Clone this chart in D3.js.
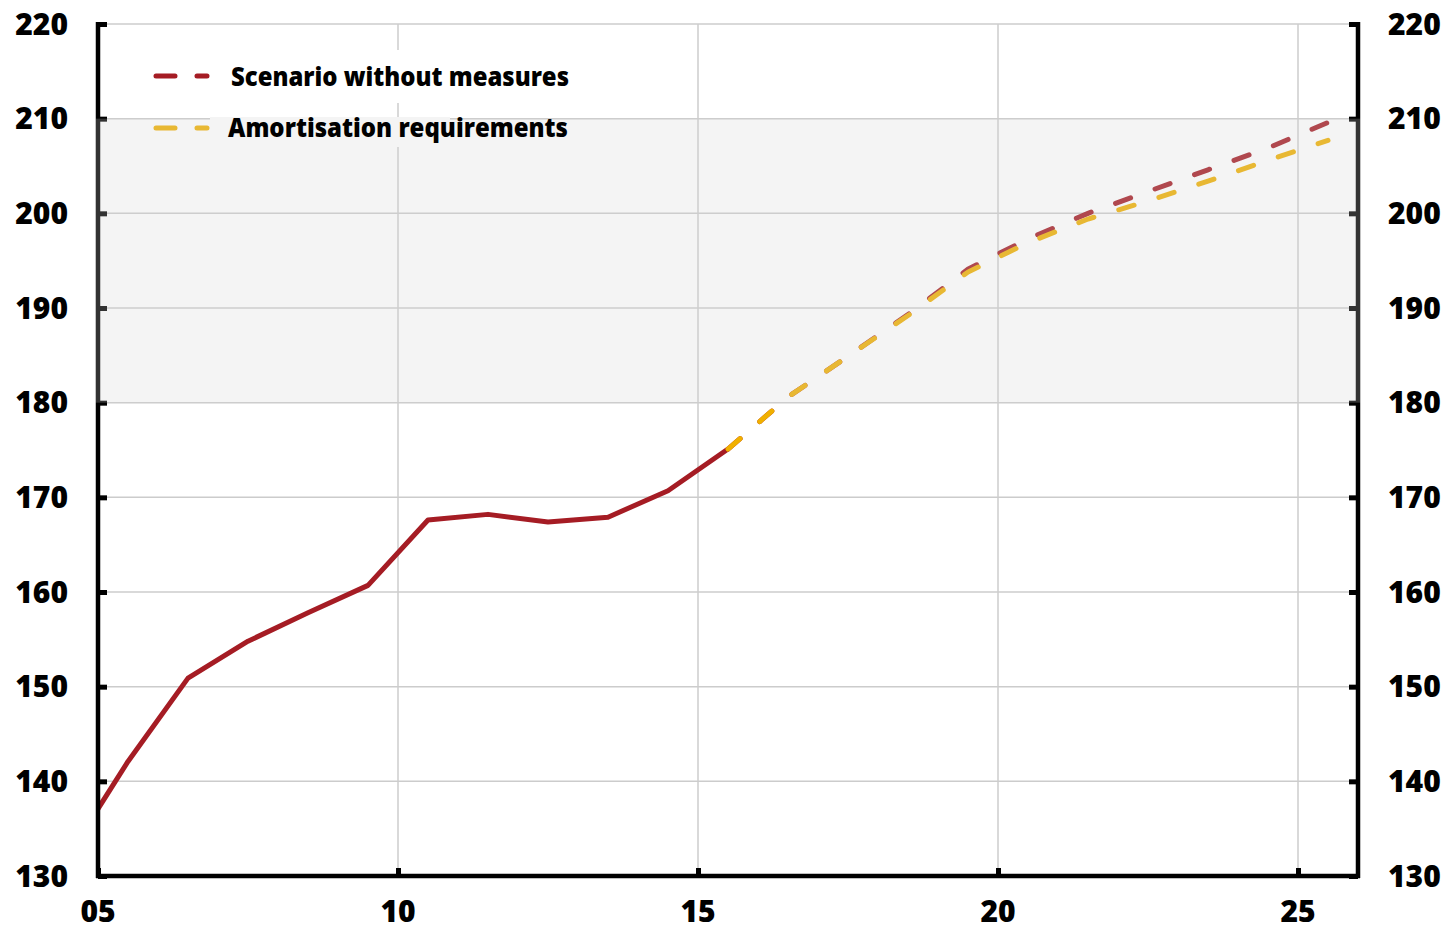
<!DOCTYPE html>
<html><head><meta charset="utf-8">
<script src="https://cdn.jsdelivr.net/npm/d3@7"></script>
<style>
html,body{margin:0;padding:0;background:#fff;}
text{font-family:"Open Sans","Noto Sans",sans-serif;font-weight:800;fill:#000;}
</style></head>
<body>
<svg id="chart" width="1450" height="930"></svg>
<script>
// ---- data ----
const histYears = [5, 5.5, 6.5, 7.5, 8.5, 9.5, 10.5, 11.5, 12.5, 13.5, 14.5, 15.5];
const histValues = [137.1, 142.1, 150.9, 154.8, 157.8, 160.7, 167.6, 168.2, 167.4, 167.9, 170.7, 175.1];
const projYears = [15.5, 16.5, 17.5, 18.5, 19.5, 20.5, 21.5, 22.5, 23.5, 24.5, 25.5];
const scenarioWithoutMeasures = [175.1, 180.6, 184.9, 189.3, 194.1, 197.3, 200.0, 202.3, 204.6, 206.9, 209.6];
const amortisationRequirements = [175.1, 180.6, 184.9, 189.2, 193.8, 196.9, 199.4, 201.3, 203.4, 205.6, 207.7];
const yTicks = [130, 140, 150, 160, 170, 180, 190, 200, 210, 220];
const xTicks = [5, 10, 15, 20, 25];
const xTickLabels = ["05", "10", "15", "20", "25"];
const legendLabels = ["Scenario without measures", "Amortisation requirements"];
const bandRange = [180, 210];

// ---- layout ----
const svg = d3.select("#chart");
const L = 98, R = 1358, T = 24, B = 876;
const x = d3.scaleLinear().domain([5, 26]).range([L, R]);
const y = d3.scaleLinear().domain([130, 220]).range([B, T]);
const RED = "#a51c24", YEL = "#f0b000";

// gridlines
const grid = svg.append("g");
grid.selectAll("line.h").data(yTicks.filter(d => d > 130)).join("line")
  .attr("x1", L).attr("x2", R).attr("y1", d => y(d)).attr("y2", d => y(d))
  .attr("stroke", "#cccccc").attr("stroke-width", 1.5);
grid.selectAll("line.v").data(xTicks.filter(d => d > 5)).join("line")
  .attr("x1", d => x(d)).attr("x2", d => x(d)).attr("y1", T).attr("y2", B)
  .attr("stroke", "#cccccc").attr("stroke-width", 1.5);

// legend background (white) for first entry
svg.append("rect").attr("x", 210).attr("y", 50).attr("width", 240).attr("height", 53).attr("fill", "#fff");

svg.append("clipPath").attr("id", "pc").append("rect")
  .attr("x", L).attr("y", T - 5).attr("width", R - L).attr("height", B - T + 5);

const line = d3.line().x(d => x(d[0])).y(d => y(d[1]));
const lines = svg.append("g").attr("clip-path", "url(#pc)");
lines.append("path").datum(histYears.map((d, i) => [d, histValues[i]]))
  .attr("d", line).attr("fill", "none").attr("stroke", RED).attr("stroke-width", 5)
  .attr("stroke-linejoin", "round");
lines.append("path").datum(projYears.map((d, i) => [d, scenarioWithoutMeasures[i]]))
  .attr("d", line).attr("fill", "none").attr("stroke", RED).attr("stroke-width", 5)
  .attr("stroke-linecap", "round").attr("stroke-dasharray", "16,26");
lines.append("path").datum(projYears.map((d, i) => [d, amortisationRequirements[i]]))
  .attr("d", line).attr("fill", "none").attr("stroke", YEL).attr("stroke-width", 5)
  .attr("stroke-linecap", "round").attr("stroke-dasharray", "16,26");

// legend samples
const legY = [76, 128];
const legCol = [RED, YEL];
legY.forEach((ly, i) => {
  svg.append("line").attr("x1", 156).attr("x2", 207).attr("y1", ly).attr("y2", ly)
    .attr("stroke", legCol[i]).attr("stroke-width", 5).attr("stroke-linecap", "round")
    .attr("stroke-dasharray", "19,22");
});

// axes
const axG = svg.append("g");
axG.append("line").attr("x1", L).attr("x2", L).attr("y1", T - 2).attr("y2", B + 2).attr("stroke", "#000").attr("stroke-width", 4.5);
axG.append("line").attr("x1", R).attr("x2", R).attr("y1", T - 2).attr("y2", B + 2).attr("stroke", "#000").attr("stroke-width", 4.5);
axG.append("line").attr("x1", L - 2).attr("x2", R + 2).attr("y1", B).attr("y2", B).attr("stroke", "#000").attr("stroke-width", 4.5);

const leftAxis = d3.axisRight(y).tickValues(yTicks).tickSize(9).tickFormat("");
const rightAxis = d3.axisLeft(y).tickValues(yTicks).tickSize(9).tickFormat("");
const bottomAxis = d3.axisTop(x).tickValues(xTicks).tickSize(8).tickFormat("");
[[leftAxis, `translate(${L},0)`], [rightAxis, `translate(${R},0)`], [bottomAxis, `translate(0,${B})`]].forEach(([a, t]) => {
  const g = svg.append("g").attr("transform", t).call(a);
  g.select(".domain").remove();
  g.selectAll(".tick line").attr("stroke", "#000").attr("stroke-width", 5);
});

// translucent band 180-210
svg.append("rect").attr("x", L - 3).attr("y", y(bandRange[1])).attr("width", R - L + 6)
  .attr("height", y(bandRange[0]) - y(bandRange[1]))
  .attr("fill", "rgb(210,210,210)").attr("fill-opacity", 0.243);

// legend box for second entry
svg.append("rect").attr("x", 210).attr("y", 117).attr("width", 240).attr("height", 30).attr("fill", "#f4f4f4");

// legend text
const legTx = [[231, 86, 338], [228, 137, 340]];
legendLabels.forEach((t, i) => {
  svg.append("text").attr("x", legTx[i][0]).attr("y", legTx[i][1]).attr("font-size", 26)
    .attr("textLength", legTx[i][2]).attr("lengthAdjust", "spacingAndGlyphs").text(t);
});

// tick labels
svg.append("g").selectAll("text").data(yTicks).join("text")
  .attr("x", 68).attr("y", d => y(d)).attr("dy", "0.36em").attr("text-anchor", "end")
  .attr("font-size", 30).text(d => d);
svg.append("g").selectAll("text").data(yTicks).join("text")
  .attr("x", 1388).attr("y", d => y(d)).attr("dy", "0.36em").attr("text-anchor", "start")
  .attr("font-size", 30).text(d => d);
svg.append("g").selectAll("text").data(xTicks).join("text")
  .attr("x", d => x(d)).attr("y", 922).attr("text-anchor", "middle")
  .attr("font-size", 30).text((d, i) => xTickLabels[i]);
</script>
</body></html>
